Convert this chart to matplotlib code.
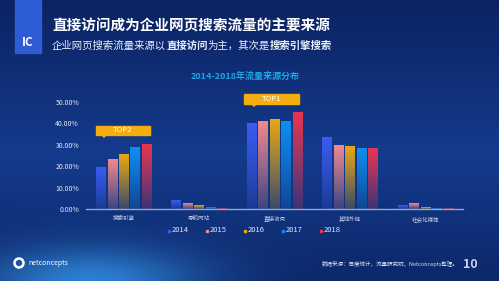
import matplotlib.pyplot as plt
import numpy as np
from matplotlib.colors import to_rgb
from matplotlib.patches import Rectangle, Polygon, Ellipse

plt.rcParams['font.family'] = ['Noto Sans CJK SC', 'DejaVu Sans']

# data
categories = ['搜索引擎', '导航网站', '直接访问', '其他外链', '社会化媒体']
years = ['2014', '2015', '2016', '2017', '2018']
values = {
    '2014': [19.5, 4.2, 40.0, 33.5, 1.7],
    '2015': [23.2, 2.7, 40.8, 29.8, 2.7],
    '2016': [25.7, 1.7, 41.9, 29.0, 0.8],
    '2017': [28.8, 0.9, 41.1, 28.4, 0.2],
    '2018': [30.0, 0.3, 45.2, 28.4, 0.1],
}
yticks = [0, 10, 20, 30, 40, 50]
colors = ['#3b5cf2', '#f08a8e', '#e8a912', '#0d8ff2', '#ea3550']

fig = plt.figure(figsize=(4.99, 2.81), dpi=100)

# background
bg = fig.add_axes([0, 0, 1, 1])
yy, xx = np.mgrid[0:1:281j, 0:1:499j]
top = np.array(to_rgb('#0b2363'))
mid = np.array(to_rgb('#143b8c'))
glow = np.array(to_rgb('#2d7fd0'))
t = np.clip(1 - np.abs(yy - 0.55) / 0.55, 0, 1)[..., None]
img = top * (1 - t) + mid * t
g = np.exp(-(((xx - 0.18) / 0.22) ** 2 + ((yy - 1.0) / 0.12) ** 2))[..., None]
img = img * (1 - g) + glow * g
bg.imshow(img, extent=(0, 1, 1, 0), aspect='auto')
bg.set_xlim(0, 1)
bg.set_ylim(1, 0)
bg.axis('off')

W, H = 499, 281
def fx(px):
    return px / W
def fy(py):
    return 1 - py / H

# logo block
fig.patches.append(Rectangle((fx(15), fy(53)), fx(26), 53 / H, transform=fig.transFigure,
                             color='#2e5bd6', zorder=2))
fig.text(fx(28), fy(42), 'IC', color='white', fontsize=8.5, fontweight='bold',
         ha='center', va='center')

fig.text(fx(52), fy(26), '直接访问成为企业网页搜索流量的主要来源', color='white',
         fontsize=10.5, fontweight='bold', va='center')
sub = [('企业网页搜索流量来源以', 'normal'), ('直接访问', 'bold'), ('为主，其次是', 'normal'),
       ('搜索引擎搜索', 'bold')]
renderer = fig.canvas.get_renderer()
x = fx(52)
for s, w in sub:
    tx = fig.text(x, fy(46), s, color='#e8eefc', fontsize=7.5, fontweight=w, va='center')
    bb = tx.get_window_extent(renderer)
    x += bb.width / fig.bbox.width

fig.text(fx(245), fy(76), '2014-2018年流量来源分布', color='#1ea6e6', fontsize=6.5,
         fontweight='bold', ha='center', va='center')

# chart
ax = fig.add_axes([fx(86), fy(209), 377 / W, (209 - 91.3) / H])
ax.set_facecolor('none')
n = len(years)
slot = 0.152
bw = 0.125
xs = np.arange(len(categories))
for i, (yr, c) in enumerate(zip(years, colors)):
    rgb = np.array(to_rgb(c))
    for j, v in enumerate(values[yr]):
        x0 = xs[j] + (i - (n - 1) / 2) * slot - bw / 2
        rgba = np.zeros((64, 1, 4))
        rgba[..., :3] = rgb
        rgba[..., 3] = np.linspace(1.0, 0.2, 64)[:, None]
        ax.imshow(rgba, extent=(x0, x0 + bw, 0, v), aspect='auto', zorder=2)
ax.set_xlim(-0.5, len(categories) - 0.5)
ax.set_ylim(0, 55)
ax.set_yticks(yticks)
ax.set_yticklabels([f'{v:.2f}%' for v in yticks], color='#dfe6f5', fontsize=5)
ax.set_xticks(xs)
ax.set_xticklabels(categories, color='#c9d3ea', fontsize=4)
ax.tick_params(length=0, pad=5)
for s in ['top', 'right', 'left']:
    ax.spines[s].set_visible(False)
ax.spines['bottom'].set_color('#8fa6d6')
ax.spines['bottom'].set_linewidth(1)

# callouts
def callout(xc0, xc1, y0, y1, tip, label):
    ax.add_patch(Rectangle((xc0, y0), xc1 - xc0, y1 - y0, color='#f3ad0e', zorder=4))
    ax.add_patch(Polygon([(tip - 0.025, y0), (tip + 0.025, y0), (tip, y0 - 1.1)],
                         color='#f3ad0e', zorder=4))
    ax.text((xc0 + xc1) / 2, (y0 + y1) / 2, label, color='white', fontsize=5.5,
            ha='center', va='center', zorder=5)

def dx(px):
    return (px - 86) / 75.4 - 0.5

callout(dx(96), dx(150), 34.6, 38.8, dx(104), 'TOP2')
callout(dx(244), dx(299), 49.1, 53.7, dx(254), 'TOP1')

# legend
for i, (yr, c) in enumerate(zip(years, colors)):
    lx = 172 + i * 38
    fig.patches.append(Rectangle((fx(lx - 4.5), fy(231.5)), 2.5 / W, 2 / H,
                                 transform=fig.transFigure, color=c))
    fig.text(fx(lx), fy(230.5), yr, color='#e2e8f6', fontsize=5.5, va='center')

# footer
fig.patches.append(Ellipse((fx(19), fy(263)), 9 / W, 9 / H, transform=fig.transFigure,
                           color='white', fill=False, lw=1.8))
fig.text(fx(28), fy(263), 'netconcepts', color='white', fontsize=5, va='center')
fig.text(fx(322), fy(264), '数据来源：百度统计，流量研究院，Netconcepts整理。',
         color='#d8e0f2', fontsize=4, va='center')
fig.text(fx(470), fy(264), '10', color='#c8d4ee', fontsize=9, fontweight='bold',
         ha='center', va='center')

fig.savefig('out.png', dpi=100)
